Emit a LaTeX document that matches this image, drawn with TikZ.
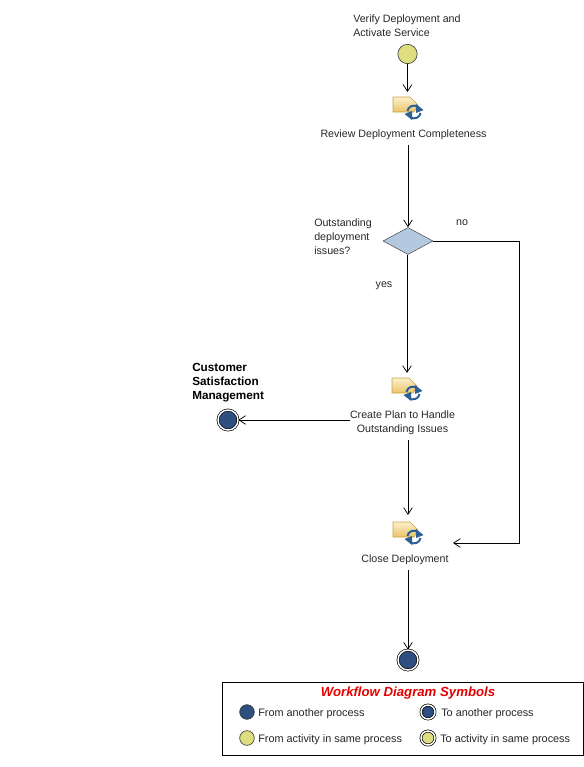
\documentclass[tikz,border=0pt]{standalone}
\usepackage{fontspec}
\setmainfont{Liberation Sans}
\usetikzlibrary{arrows.meta, positioning, shapes.geometric}

\definecolor{flowblue}{HTML}{2F4F80}
\definecolor{flowyellow}{HTML}{DEDE7E}
\definecolor{flowdiamond}{HTML}{B4C8E0}
\definecolor{iconblue}{HTML}{2B6098}
\definecolor{iconedge}{HTML}{C9A24A}
\definecolor{icontop}{HTML}{FBF0CC}
\definecolor{iconlow}{HTML}{EBC468}

\tikzset{
  flow/.style={draw=black, line width=0.65pt, -{Straight Barb[length=5pt, width=6.5pt, line width=0.55pt]}},
  lbl/.style={font=\fontsize{8}{10.5}\selectfont, align=left, inner sep=0pt, text=black!85},
  lblc/.style={lbl, align=center},
  keylbl/.style={lbl, font=\fontsize{8.15}{10.5}\selectfont},
  boldlbl/.style={lbl, font=\fontsize{8.8}{10.5}\selectfont\bfseries, text=black},
  taskbox/.style={inner sep=0pt, minimum width=24pt, minimum height=16pt},
  fromblue/.style={circle, draw=black!75, line width=0.5pt, fill=flowblue, inner sep=0pt, minimum size=#1},
  fromyellow/.style={circle, draw=black!75, line width=0.5pt, fill=flowyellow, inner sep=0pt, minimum size=#1},
  toblue/.style={circle, draw=black, line width=0.5pt, fill=flowblue, inner sep=0pt, minimum size=#1,
    double=white, double distance=1.1pt},
  toyellow/.style={circle, draw=black, line width=0.5pt, fill=flowyellow, inner sep=0pt, minimum size=#1,
    double=white, double distance=1.1pt},
  taskicon/.pic={
    \begin{scope}[x=0.75pt, y=0.75pt]
    % page shape
    \draw[draw=iconedge, line width=0.5pt, top color=icontop, bottom color=iconlow]
      (-12,10) -- (5,10) -- (13,2) -- (9,-5) -- (-12,-5) -- cycle;
    % sync arrows
    \draw[iconblue, line width=1.5pt] (2.5,-4) arc (170:50:6.5);
    \draw[iconblue, line width=1.5pt] (15.5,-6) arc (-10:-130:6.5);
    \fill[iconblue] (11,3) -- (18.5,-3) -- (11,-6) -- cycle;
    \fill[iconblue] (7,-13) -- (-0.5,-7) -- (7,-4) -- cycle;
    \end{scope}
  },
}

\begin{document}
\begin{tikzpicture}[x=0.75pt, y=-0.75pt]
  \useasboundingbox (0,0) rectangle (584,767);

  % main column
  \node[lbl, anchor=north west] (verifytext) at (353,15) {Verify Deployment and\\Activate Service};
  \node[fromyellow=14.5pt] (start) at (407.5,54) {};
  \node[taskbox] (reviewicon) at (405,107) {};
  \pic at (reviewicon) {taskicon};
  \node[lblc] (review) at (403.5,135) {Review Deployment Completeness};
  \node[diamond, draw=black!70, line width=0.4pt, fill=flowdiamond, inner sep=0pt,
        minimum width=37.5pt, minimum height=20.25pt] (decide) at (408,241) {};
  \node[lbl, anchor=north west] (decidetext) at (314,219) {Outstanding\\deployment\\issues?};
  \node[lbl] (yes) at (384,286) {yes};
  \node[lbl] (no) at (462,223) {no};
  \node[taskbox] (createicon) at (404,388) {};
  \pic at (createicon) {taskicon};
  \node[lblc] (create) at (402.5,423) {Create Plan to Handle\\Outstanding Issues};
  \node[boldlbl, anchor=north west] (customertext) at (192,363) {Customer\\Satisfaction\\Management};
  \node[toblue=15pt] (customer) at (228,420) {};
  \node[taskbox] (closeicon) at (405,532) {};
  \pic at (closeicon) {taskicon};
  \node[lblc] (close) at (405,560) {Close Deployment};
  \node[toblue=15pt] (finish) at (408,660) {};

  \coordinate (reviewin) at (407.5,92);
  \coordinate (reviewout) at (408,145);
  \coordinate (createin) at (407,373);
  \coordinate (createout) at (408,440);
  \coordinate (closein) at (408,515);
  \coordinate (closeout) at (408,570);
  \coordinate (nobend) at (519.5,543);
  \coordinate (noend) at (453,543);

  \draw[flow] (start) -- (reviewin);
  \draw[flow] (reviewout) -- (decide.north);
  \draw[flow] (decide.south -| createin) -- (createin);
  \draw[flow] (customer.east -| create.west) -- (customer);
  \draw[flow] (createout) -- (closein);
  \draw[flow] (closeout) -- (finish);
  \draw[flow] (decide.east) -- (decide.east -| nobend) -- (nobend) -- (noend);

  % legend
  \node[draw=black, line width=0.7pt, fill=white, minimum width=270.75pt, minimum height=54.75pt,
        inner sep=0pt] (legend) at (402.5,718.5) {};
  \node[font=\fontsize{9.9}{12}\selectfont\bfseries\itshape, text=red!90!black, inner sep=0pt] (legendtitle) at (408,693.5) {Workflow Diagram Symbols};
  \node[fromblue=11pt] (fromother) at (247,712) {};
  \node[keylbl, anchor=west] (fromothertext) at (258,713.5) {From another process};
  \node[toblue=10.5pt] (toother) at (428,712) {};
  \node[keylbl, anchor=west] (toothertext) at (441,713.5) {To another process};
  \node[fromyellow=11pt] (fromsame) at (247,738) {};
  \node[keylbl, anchor=west] (fromsametext) at (258,739.5) {From activity in same process};
  \node[toyellow=10.5pt] (tosame) at (428,738) {};
  \node[keylbl, anchor=west] (tosametext) at (440,739.5) {To activity in same process};
\end{tikzpicture}
\end{document}
